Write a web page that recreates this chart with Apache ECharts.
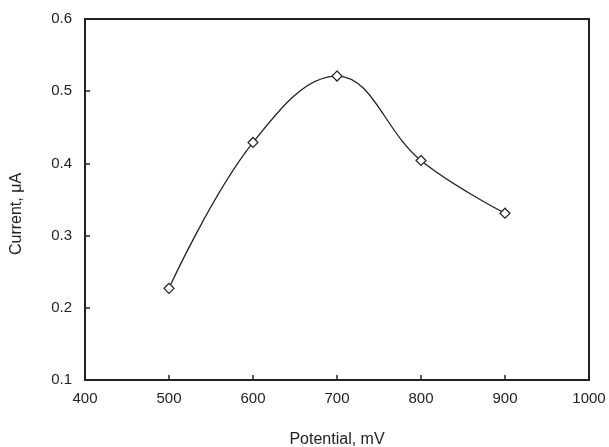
<!DOCTYPE html>
<html>
<head>
<meta charset="utf-8">
<script src="https://cdn.jsdelivr.net/npm/echarts@6/dist/echarts.min.js"></script>
<style>
    html, body { margin: 0; padding: 0; background: #fff; }
    #chart { width: 609px; height: 447px; }
</style>
</head>
<body>
<div id="chart"></div>
<script>
var potential = [500, 600, 700, 800, 900];
var current = [0.227, 0.429, 0.521, 0.404, 0.331];

var points = [];
for (var i = 0; i < potential.length; i++) {
    points.push([potential[i], current[i]]);
}

var fontName = 'Liberation Sans, Arial, sans-serif';

var myChart = echarts.init(document.getElementById('chart'));
myChart.setOption({
    animation: false,
    backgroundColor: '#fff',
    grid: {
        left: 85, right: 20, top: 19, bottom: 67,
        outerBoundsMode: 'none',
        containLabel: false,
        show: true, borderColor: '#222', borderWidth: 2
    },
    xAxis: {
        type: 'value',
        min: 400, max: 1000, interval: 100,
        name: 'Potential, mV',
        nameLocation: 'middle',
        nameGap: 52,
        nameTextStyle: { color: '#222', fontSize: 16, fontFamily: fontName },
        axisLine: { lineStyle: { color: '#222', width: 2 } },
        axisTick: { inside: true, length: 5, lineStyle: { color: '#222', width: 1.5 } },
        axisLabel: { margin: 11, color: '#222', fontSize: 15, fontFamily: fontName,
            formatter: function (v) { return String(v); } },
        splitLine: { show: false }
    },
    yAxis: {
        type: 'value',
        min: 0.1, max: 0.6, interval: 0.1,
        name: 'Current, \u03bcA',
        nameLocation: 'middle',
        nameGap: 60,
        nameTextStyle: { color: '#222', fontSize: 16, fontFamily: fontName, padding: [0, 29, 0, 0] },
        axisLine: { lineStyle: { color: '#222', width: 2 } },
        axisTick: { inside: true, length: 5, lineStyle: { color: '#222', width: 1.5 } },
        axisLabel: { margin: 13, color: '#222', fontSize: 15, fontFamily: fontName,
            formatter: function (v) { return v.toFixed(1); } },
        splitLine: { show: false }
    },
    series: [{
        type: 'line',
        data: points,
        smooth: 0.4,
        symbol: 'diamond',
        symbolSize: [10, 10],
        lineStyle: { color: '#222', width: 1.3 },
        itemStyle: { color: '#fff', borderColor: '#222', borderWidth: 1.2 }
    }]
});
</script>
</body>
</html>
